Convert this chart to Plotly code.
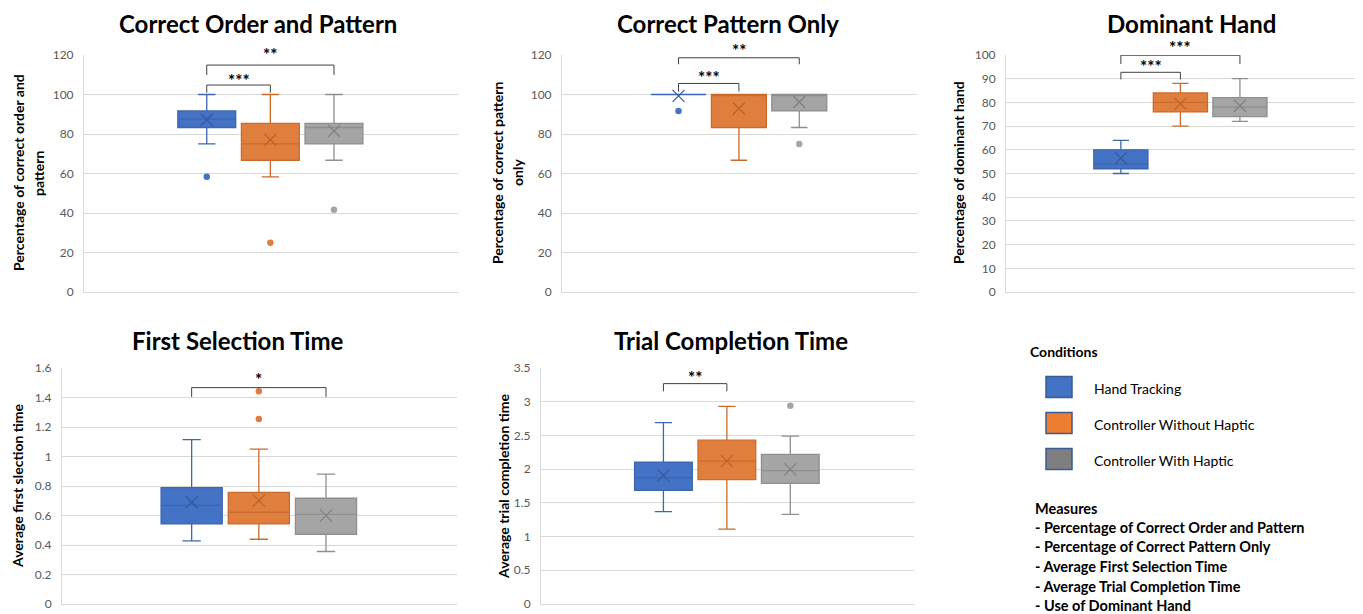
import plotly.graph_objects as go

# target picture size and page offset (the page body adds an 8px margin)
W_TARGET, H_TARGET = 1363, 614
OFF = 8
W, H = W_TARGET - OFF, H_TARGET - OFF


def px(x):
    return (x - OFF) / W


def py(y):
    return 1 - (y - OFF) / H


CONDITIONS = ["Hand Tracking", "Controller Without Haptic", "Controller With Haptic"]
FILL = ["#4472C4", "#E07F3D", "#A5A5A5"]
LINE = ["#3E66B0", "#C96B2D", "#8F8F8F"]
MEAN_COLOR = ["#34589E", "#B86328", "#808080"]
LEGEND_FILL = ["#4472C4", "#ED7D31", "#7F7F7F"]

# ---- Correct Order and Pattern ----
cop_lower = [75.0, 58.3, 66.7]
cop_q1 = [83.3, 66.7, 75.0]
cop_median = [87.5, 75.0, 83.3]
cop_q3 = [91.7, 85.4, 85.4]
cop_upper = [100.0, 100.0, 100.0]
cop_mean = [87.2, 77.1, 81.5]
cop_outliers = [[58.3], [25.0], [41.7]]

# ---- Correct Pattern Only ----
cpo_lower = [100.0, 66.7, 83.3]
cpo_q1 = [100.0, 83.3, 91.7]
cpo_median = [100.0, 100.0, 100.0]
cpo_q3 = [100.0, 100.0, 100.0]
cpo_upper = [100.0, 100.0, 100.0]
cpo_mean = [99.3, 92.9, 96.2]
cpo_outliers = [[91.7], [], [75.0]]

# ---- Dominant Hand ----
dh_lower = [50.0, 70.0, 72.0]
dh_q1 = [52.0, 76.0, 74.0]
dh_median = [54.0, 80.0, 78.0]
dh_q3 = [60.0, 84.0, 82.0]
dh_upper = [64.0, 88.0, 90.0]
dh_mean = [56.5, 79.5, 78.6]
dh_outliers = [[], [], []]

# ---- First Selection Time ----
fst_lower = [0.428, 0.439, 0.356]
fst_q1 = [0.543, 0.543, 0.473]
fst_median = [0.669, 0.622, 0.608]
fst_q3 = [0.789, 0.757, 0.717]
fst_upper = [1.115, 1.050, 0.880]
fst_mean = [0.690, 0.701, 0.599]
fst_outliers = [[], [1.255, 1.443], []]

# ---- Trial Completion Time ----
tct_lower = [1.37, 1.11, 1.33]
tct_q1 = [1.686, 1.844, 1.789]
tct_median = [1.873, 2.12, 1.977]
tct_q3 = [2.105, 2.43, 2.218]
tct_upper = [2.69, 2.93, 2.49]
tct_mean = [1.908, 2.12, 1.996]
tct_outliers = [[], [], [2.94]]

TITLES = ["Correct Order and Pattern", "Correct Pattern Only", "Dominant Hand",
          "First Selection Time", "Trial Completion Time"]
YTITLES = [["Percentage of correct order and", "pattern"],
           ["Percentage of correct pattern", "only"],
           ["Percentage of dominant hand"],
           ["Average first slection time"],
           ["Average trial completion time"]]
YMAX = [120, 120, 100, 1.6, 3.5]
DTICK = [20, 20, 10, 0.2, 0.5]

# significance: (panel, from, to, bar level, tick bottom, label, label level)
SIG = [
    (0, 0, 1, 104.8, 100.9, "***", 107.2),
    (0, 0, 2, 114.9, 109.9, "**", 120.3),
    (1, 0, 1, 105.6, 101.4, "***", 108.5),
    (1, 0, 2, 118.6, 115.3, "**", 122.4),
    (2, 0, 1, 92.7, 89.7, "***", 95.0),
    (2, 0, 2, 99.9, 96.2, "***", 103.1),
    (3, 0, 2, 1.467, 1.404, "*", 1.525),
    (4, 0, 1, 3.268, 3.155, "**", 3.365),
]

LEGEND_TITLE = "Conditions"
MEASURES_TITLE = "Measures"
MEASURES = ["- Percentage of Correct Order and Pattern", "- Percentage of Correct Pattern Only",
            "- Average First Selection Time", "- Average Trial Completion Time",
            "- Use of Dominant Hand"]

panels = [
    (cop_lower, cop_q1, cop_median, cop_q3, cop_upper, cop_mean, cop_outliers),
    (cpo_lower, cpo_q1, cpo_median, cpo_q3, cpo_upper, cpo_mean, cpo_outliers),
    (dh_lower, dh_q1, dh_median, dh_q3, dh_upper, dh_mean, dh_outliers),
    (fst_lower, fst_q1, fst_median, fst_q3, fst_upper, fst_mean, fst_outliers),
    (tct_lower, tct_q1, tct_median, tct_q3, tct_upper, tct_mean, tct_outliers),
]

# plot areas in picture pixels: (left, right, top, bottom)
AREAS = [(84, 458, 55, 292), (562, 917, 55, 292), (1006, 1356, 55, 292),
         (62, 457, 368, 604), (541, 914, 368, 604)]
TITLE_POS = [(258, 24), (728, 23), (1191, 23), (238, 340), (731, 340)]
YTITLE_POS = [(18, 173), (497, 173), (958, 173), (17, 486), (503, 487)]
YTITLE_LINE_GAP = 20

FONT = "Lato"
fig = go.Figure()
annotations = []
shapes = []
X_RANGE = [-1.93, 3.95]

for p, (lo, q1, med, q3, up, mean, outl) in enumerate(panels):
    n = "" if p == 0 else str(p + 1)
    xa, ya = "x" + n, "y" + n
    for i, c in enumerate(CONDITIONS):
        fig.add_trace(go.Box(
            x=[c], q1=[q1[i]], median=[med[i]], q3=[q3[i]],
            lowerfence=[lo[i]], upperfence=[up[i]],
            width=0.91, whiskerwidth=0.3, boxpoints=False,
            fillcolor=FILL[i], line=dict(color=LINE[i], width=1.3),
            showlegend=False, hoverinfo="skip", xaxis=xa, yaxis=ya))
        fig.add_trace(go.Scatter(
            x=[c], y=[mean[i]], mode="markers",
            marker=dict(symbol="x-thin-open", size=12, color=MEAN_COLOR[i],
                        line=dict(color=MEAN_COLOR[i], width=1.2)),
            showlegend=False, hoverinfo="skip", xaxis=xa, yaxis=ya))
        if outl[i]:
            fig.add_trace(go.Scatter(
                x=[c] * len(outl[i]), y=outl[i], mode="markers",
                marker=dict(symbol="circle", size=6.5, color=FILL[i]),
                showlegend=False, hoverinfo="skip", xaxis=xa, yaxis=ya, cliponaxis=False))
    l, r, t, b = AREAS[p]
    fig.update_layout({
        "xaxis" + n: dict(domain=[px(l), px(r)], anchor=ya, type="category",
                          categoryorder="array", categoryarray=CONDITIONS,
                          range=X_RANGE, showticklabels=False, showgrid=False,
                          showline=True, linecolor="#d9d9d9", linewidth=1, zeroline=False,
                          fixedrange=True, automargin=False),
        "yaxis" + n: dict(domain=[py(b), py(t)], anchor=xa, range=[0, YMAX[p]],
                          dtick=DTICK[p], tick0=0, showgrid=True, gridcolor="#d9d9d9", gridwidth=1,
                          showline=True, linecolor="#d9d9d9", linewidth=1, zeroline=False,
                          ticklabelstandoff=7, automargin=False,
                          tickfont=dict(family=FONT, size=12, color="#595959")),
    })
    annotations.append(dict(text="<b>%s</b>" % TITLES[p], xref="paper", yref="paper",
                            x=px(TITLE_POS[p][0]), y=py(TITLE_POS[p][1]),
                            xanchor="center", yanchor="middle", showarrow=False,
                            font=dict(family=FONT, size=24, color="#000000")))
    for k, line in enumerate(YTITLES[p]):
        annotations.append(dict(text="<b>%s</b>" % line, xref="paper", yref="paper",
                                x=px(YTITLE_POS[p][0] + k * YTITLE_LINE_GAP),
                                y=py(YTITLE_POS[p][1]),
                                xanchor="center", yanchor="middle", showarrow=False, textangle=-90,
                                font=dict(family=FONT, size=14, color="#000000")))

for (p, i, j, ybar, ylow, lab, ytxt) in SIG:
    n = "" if p == 0 else str(p + 1)
    xa, ya = "x" + n, "y" + n
    ln = dict(color="#404040", width=1)
    shapes.append(dict(type="line", xref=xa, yref=ya, x0=i, x1=j, y0=ybar, y1=ybar, line=ln))
    shapes.append(dict(type="line", xref=xa, yref=ya, x0=i, x1=i, y0=ylow, y1=ybar, line=ln))
    shapes.append(dict(type="line", xref=xa, yref=ya, x0=j, x1=j, y0=ylow, y1=ybar, line=ln))
    annotations.append(dict(text="<b>%s</b>" % lab, xref=xa + " domain", yref=ya + " domain",
                            x=((i + j) / 2 - X_RANGE[0]) / (X_RANGE[1] - X_RANGE[0]),
                            y=ytxt / YMAX[p],
                            xanchor="center", yanchor="middle", showarrow=False,
                            font=dict(family=FONT, size=17, color="#000000")))

# custom legend
annotations.append(dict(text="<b>%s</b>" % LEGEND_TITLE, xref="paper", yref="paper",
                        x=px(1028), y=py(351), xanchor="left", yanchor="middle",
                        showarrow=False, font=dict(family=FONT, size=14, color="#000000")))
LEG_Y = [387, 423, 459]
for i, c in enumerate(CONDITIONS):
    yc = LEG_Y[i]
    shapes.append(dict(type="rect", xref="paper", yref="paper",
                       x0=px(1046), x1=px(1072), y0=py(yc + 10.5), y1=py(yc - 10.5),
                       fillcolor=LEGEND_FILL[i], line=dict(color="#3A5B94", width=1.5)))
    annotations.append(dict(text=c, xref="paper", yref="paper", x=px(1092), y=py(yc + 1),
                            xanchor="left", yanchor="middle", showarrow=False,
                            font=dict(family=FONT, size=14, color="#000000")))
annotations.append(dict(text="<b>%s</b>" % MEASURES_TITLE, xref="paper", yref="paper",
                        x=px(1033), y=py(508), xanchor="left", yanchor="middle",
                        showarrow=False, font=dict(family=FONT, size=14.5, color="#000000")))
for k, m in enumerate(MEASURES):
    annotations.append(dict(text="<b>%s</b>" % m, xref="paper", yref="paper",
                            x=px(1033), y=py(527 + 19.7 * k), xanchor="left", yanchor="middle",
                            showarrow=False, font=dict(family=FONT, size=14.5, color="#000000")))

fig.update_layout(width=W, height=H, margin=dict(l=0, r=0, t=0, b=0, autoexpand=False),
                  paper_bgcolor="white", plot_bgcolor="white",
                  annotations=annotations, shapes=shapes, showlegend=False,
                  font=dict(family=FONT))
fig.write_html("out.html")
